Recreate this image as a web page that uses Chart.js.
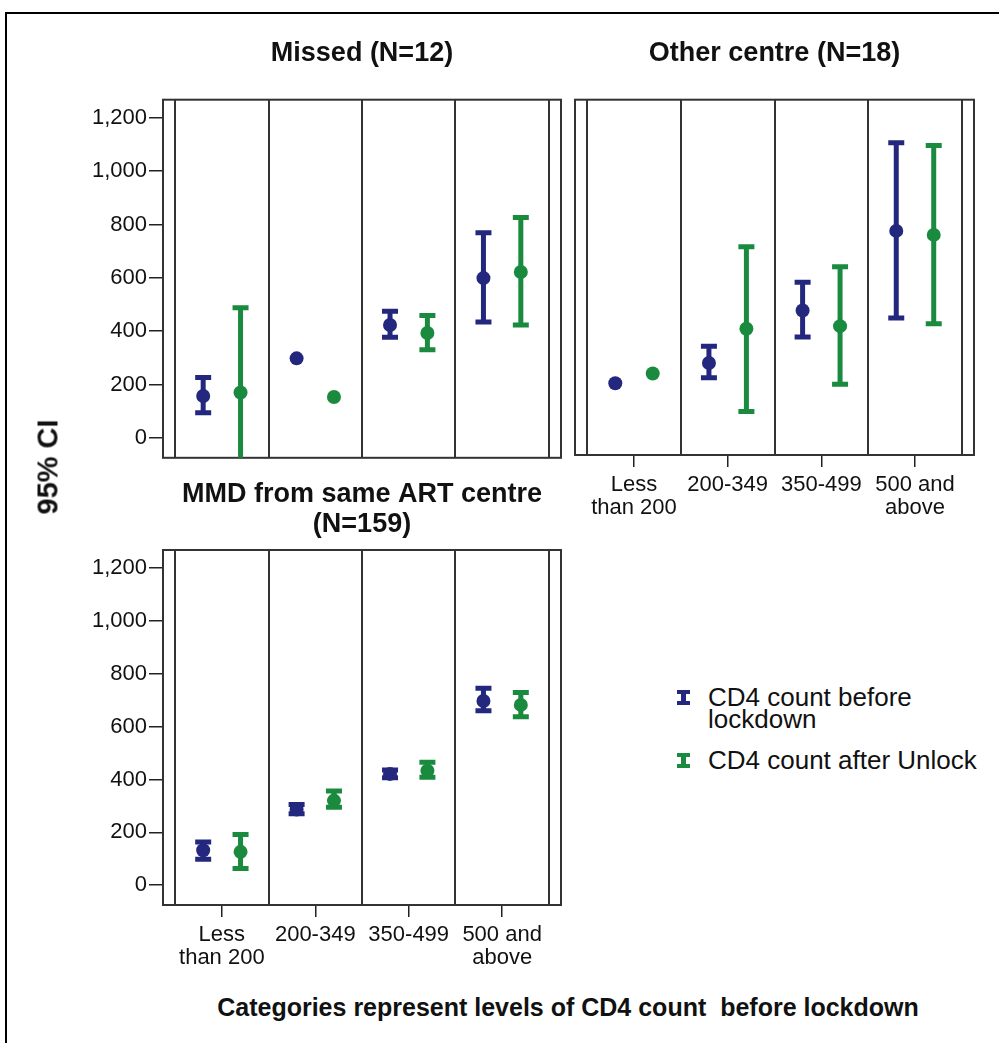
<!DOCTYPE html>
<html>
<head>
<meta charset="utf-8">
<script src="https://cdn.jsdelivr.net/npm/chart.js@4.4.0/dist/chart.umd.min.js"></script>
<style>
body{margin:0;background:#fff;font-family:Arial,"Liberation Sans",sans-serif;}
#page{position:relative;width:999px;height:1043px;overflow:hidden;background:#fff;}
#frame{position:absolute;left:5px;top:12px;width:1100px;height:1100px;border:2px solid #000;}
canvas{position:absolute;}
#yTitle{position:absolute;left:48px;top:467px;transform:translate(-50%,-50%) rotate(-90deg);font-weight:bold;font-size:29px;white-space:nowrap;color:#111;}
#xTitle{position:absolute;left:568px;top:1007px;transform:translate(-50%,-50%);font-weight:bold;font-size:25px;white-space:nowrap;color:#111;}
#legend{position:absolute;left:676px;top:686px;font-size:26px;line-height:22px;color:#111;}
.item{position:relative;padding-left:32px;margin-bottom:19px;}
.item svg{position:absolute;left:1px;top:4px;}
</style>
</head>
<body>
<div id="page">
  <div id="frame"></div>
  <canvas id="missed" width="530" height="453" style="left:40px;top:20px"></canvas>
  <canvas id="other" width="425" height="520" style="left:565px;top:20px"></canvas>
  <canvas id="mmd" width="530" height="528" style="left:40px;top:462px"></canvas>
  <div id="yTitle">95% CI</div>
  <div id="xTitle">Categories represent levels of CD4 count&nbsp; before lockdown</div>
  <div id="legend"></div>
</div>
<script>
// categories and axis ticks
var categories = [['Less', 'than 200'], '200-349', '350-499', ['500 and', 'above']];
var yTicks = [0, 200, 400, 600, 800, 1000, 1200];
var catEdges = [-0.5, 0.5, 1.5, 2.5, 3.5];
var seriesNames = [['CD4 count before', 'lockdown'], ['CD4 count after Unlock']];
var seriesColors = ['#23287e', '#1a8b3e'];

// Missed (N=12)
var missedBefore   = [157, 298, 423, 599];
var missedBeforeLo = [94, null, 377, 434];
var missedBeforeHi = [226, null, 475, 769];
var missedAfter    = [170, 153, 393, 622];
var missedAfterLo  = [-90, null, 330, 423];
var missedAfterHi  = [488, null, 459, 826];

// Other centre (N=18)
var otherBefore   = [196, 273, 471, 772];
var otherBeforeLo = [null, 217, 371, 443];
var otherBeforeHi = [null, 336, 578, 1105];
var otherAfter    = [233, 402, 412, 757];
var otherAfterLo  = [null, 89, 192, 421];
var otherAfterHi  = [null, 712, 637, 1095];

// MMD from same ART centre (N=159)
var mmdBefore   = [132, 286, 421, 697];
var mmdBeforeLo = [98, 270, 406, 660];
var mmdBeforeHi = [163, 305, 436, 745];
var mmdAfter    = [126, 320, 433, 682];
var mmdAfterLo  = [63, 295, 408, 637];
var mmdAfterHi  = [192, 356, 465, 729];

Chart.defaults.font.family = 'Arial, "Liberation Sans", sans-serif';
Chart.defaults.color = '#111';

// panel frame + category separators
var framePlugin = {
    id: 'panelFrame',
    beforeDatasetsDraw: function(chart) {
        var ctx = chart.ctx, a = chart.chartArea, xs = chart.scales.x;
        ctx.save();
        ctx.strokeStyle = '#333';
        ctx.lineWidth = 2;
        ctx.strokeRect(a.left, a.top, a.right - a.left, a.bottom - a.top);
        ctx.beginPath();
        catEdges.forEach(function(e) {
            var px = Math.round(xs.getPixelForValue(e));
            ctx.moveTo(px, a.top);
            ctx.lineTo(px, a.bottom);
        });
        ctx.stroke();
        ctx.restore();
    }
};

// 95% CI bars
var errorBarPlugin = {
    id: 'errorBars',
    beforeDatasetsDraw: function(chart) {
        var ctx = chart.ctx, a = chart.chartArea, ys = chart.scales.y;
        ctx.save();
        ctx.beginPath();
        ctx.rect(a.left, a.top, a.right - a.left, a.bottom - a.top);
        ctx.clip();
        chart.data.datasets.forEach(function(ds, d) {
            var meta = chart.getDatasetMeta(d);
            meta.data.forEach(function(pt, i) {
                if (ds.lo[i] == null) return;
                var x = pt.x, y1 = ys.getPixelForValue(ds.lo[i]), y2 = ys.getPixelForValue(ds.hi[i]);
                ctx.strokeStyle = ds.backgroundColor;
                ctx.lineWidth = 5;
                ctx.beginPath();
                ctx.moveTo(x, y1); ctx.lineTo(x, y2);
                ctx.moveTo(x - 8, y1); ctx.lineTo(x + 8, y1);
                ctx.moveTo(x - 8, y2); ctx.lineTo(x + 8, y2);
                ctx.stroke();
            });
        });
        ctx.restore();
    }
};

function points(vals, shift) {
    return vals.map(function(v, i) { return {x: i + shift, y: v}; });
}

function makeChart(id, title, before, bLo, bHi, after, aLo, aHi, showX, showY, pad, titlePad, titleLH) {
    var ctx = document.getElementById(id).getContext('2d');
    return new Chart(ctx, {
        type: 'scatter',
        data: {
            datasets: [{
                label: seriesNames[0].join(' '),
                data: points(before, -0.2),
                lo: bLo, hi: bHi,
                backgroundColor: seriesColors[0],
                pointRadius: 7,
                pointBorderWidth: 0
            }, {
                label: seriesNames[1].join(' '),
                data: points(after, 0.2),
                lo: aLo, hi: aHi,
                backgroundColor: seriesColors[1],
                pointRadius: 7,
                pointBorderWidth: 0
            }]
        },
        options: {
            responsive: false,
            animation: false,
            layout: {padding: pad},
            plugins: {
                legend: {display: false},
                tooltip: {enabled: false},
                title: {
                    display: true,
                    text: title,
                    fullSize: false,
                    color: '#111',
                    font: {size: 27, weight: 'bold', lineHeight: titleLH},
                    padding: titlePad
                }
            },
            scales: {
                x: {
                    type: 'linear',
                    min: -0.63, max: 3.63,
                    display: showX,
                    afterBuildTicks: function(ax) {
                        ax.ticks = categories.map(function(c, i) { return {value: i}; });
                    },
                    afterFit: function(ax) { if (showX) ax.height = 85; },
                    border: {display: false},
                    grid: {drawOnChartArea: false, tickLength: 12, color: '#222', lineWidth: 1.5},
                    ticks: {
                        autoSkip: false, maxRotation: 0, padding: 6,
                        font: {size: 22, lineHeight: 1.05},
                        callback: function(v) { return categories[v]; }
                    }
                },
                y: {
                    min: -75, max: 1268,
                    display: showY,
                    afterBuildTicks: function(ax) {
                        ax.ticks = yTicks.map(function(v) { return {value: v}; });
                    },
                    afterFit: function(ax) { if (showY) ax.width = 123; },
                    border: {display: false},
                    grid: {drawOnChartArea: false, tickLength: 14, color: '#222', lineWidth: 1.5},
                    ticks: {
                        padding: 2,
                        font: {size: 22},
                        callback: function(v) { return v.toLocaleString('en-US'); }
                    }
                }
            }
        },
        plugins: [framePlugin, errorBarPlugin]
    });
}

makeChart('missed', 'Missed (N=12)', missedBefore, missedBeforeLo, missedBeforeHi,
    missedAfter, missedAfterLo, missedAfterHi, false, true,
    {left: 0, right: 9, top: 0, bottom: 0}, {top: 19, bottom: 31}, 1.1);
makeChart('other', 'Other centre (N=18)', otherBefore, otherBeforeLo, otherBeforeHi,
    otherAfter, otherAfterLo, otherAfterHi, true, false,
    {left: 10, right: 16, top: 0, bottom: 0}, {top: 19, bottom: 31}, 1.1);
makeChart('mmd', ['MMD from same ART centre', '(N=159)'], mmdBefore, mmdBeforeLo, mmdBeforeHi,
    mmdAfter, mmdAfterLo, mmdAfterHi, true, true,
    {left: 0, right: 9, top: 0, bottom: 0}, {top: 18, bottom: 10}, 1.111);

// legend
var legend = document.getElementById('legend');
seriesNames.forEach(function(name, i) {
    var c = seriesColors[i];
    var item = document.createElement('div');
    item.className = 'item';
    item.innerHTML = '<svg width="13" height="15"><rect x="0" y="0" width="13" height="4" fill="' + c + '"/>' +
        '<rect x="4" y="0" width="5" height="15" fill="' + c + '"/>' +
        '<rect x="0" y="11" width="13" height="4" fill="' + c + '"/></svg>' + name.join('<br>');
    legend.appendChild(item);
});
</script>
</body>
</html>
